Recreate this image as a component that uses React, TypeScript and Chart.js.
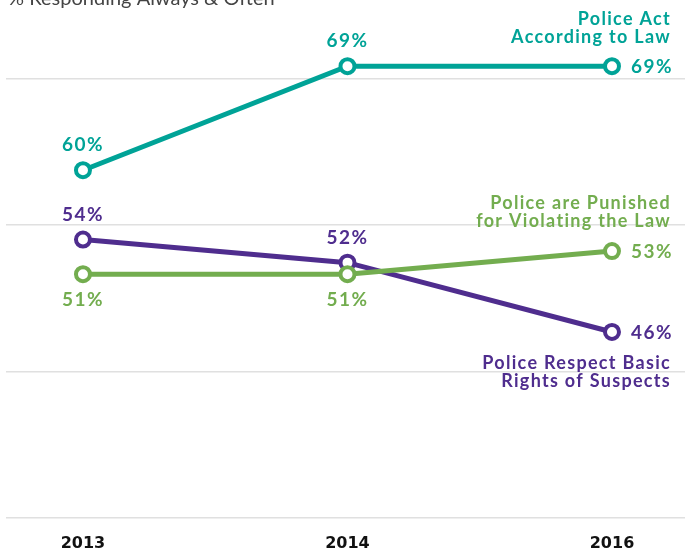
import React, { useEffect, useRef } from "react";
import { Chart, registerables } from "chart.js";

Chart.register(...registerables);

const years = ["2013", "2014", "2016"];
const actAccordingToLaw = [60, 69, 69];
const punishedForViolating = [51, 51, 53];
const respectRights = [54, 52, 46];
const gridValues = [29.9, 42.6, 55.25, 67.9];

const TEAL = "#00A397";
const GREEN = "#73AD4F";
const PURPLE = "#4F2D8E";

type Place = "above" | "below" | "right";

const seriesMeta: { name: string[]; color: string; places: Place[]; nameDy: number[] }[] = [
  { name: ["Police Act", "According to Law"], color: TEAL, places: ["above", "above", "right"], nameDy: [-41, -23] },
  { name: ["Police are Punished", "for Violating the Law"], color: GREEN, places: ["below", "below", "right"], nameDy: [-42, -24] },
  { name: ["Police Respect Basic", "Rights of Suspects"], color: PURPLE, places: ["above", "above", "right"], nameDy: [37, 55] },
];

const seriesValues = [actAccordingToLaw, punishedForViolating, respectRights];

const labelPlugin = {
  id: "labels",
  afterDatasetsDraw(chart: any) {
    const ctx = chart.ctx as CanvasRenderingContext2D;
    ctx.save();
    // title
    ctx.font = "400 20px Lato";
    ctx.fillStyle = "#444";
    ctx.textAlign = "left";
    ctx.textBaseline = "alphabetic";
    ctx.fillText("% Responding Always & Often", 8, 5);

    chart.data.datasets.forEach((ds: any, di: number) => {
      const meta = chart.getDatasetMeta(di);
      const sm = seriesMeta[di];
      ctx.fillStyle = sm.color;
      (ctx as any).letterSpacing = "1.5px";
      ctx.font = "700 19px Lato";
      meta.data.forEach((pt: any, i: number) => {
        const v = seriesValues[di][i];
        const text = v + "%";
        const place = sm.places[i];
        if (place === "right") {
          ctx.textAlign = "left";
          ctx.textBaseline = "middle";
          ctx.fillText(text, pt.x + 19, pt.y + 1);
        } else if (place === "above") {
          ctx.textAlign = "center";
          ctx.textBaseline = "middle";
          ctx.fillText(text, pt.x, pt.y - 25);
        } else {
          ctx.textAlign = "center";
          ctx.textBaseline = "middle";
          ctx.fillText(text, pt.x, pt.y + 26);
        }
      });
      const last = meta.data[meta.data.length - 1];
      ctx.textAlign = "right";
      ctx.textBaseline = "alphabetic";
      (ctx as any).letterSpacing = "1.3px";
      ctx.font = "700 18px Lato";
      sm.name.forEach((line, li) => {
        ctx.fillText(line, 671, last.y + sm.nameDy[li]);
      });
    });
    ctx.restore();
  },
};

export default function App() {
  const ref = useRef<HTMLCanvasElement | null>(null);
  useEffect(() => {
    if (!ref.current) return;
    const chart = new Chart(ref.current, {
      type: "line",
      data: {
        datasets: seriesValues.map((vals, di) => ({
          label: seriesMeta[di].name.join(" "),
          data: vals.map((v, i) => ({ x: i, y: v })),
          borderColor: seriesMeta[di].color,
          backgroundColor: "#ffffff",
          pointBackgroundColor: "#ffffff",
          pointBorderColor: seriesMeta[di].color,
          pointRadius: 7,
          pointBorderWidth: 4,
          borderWidth: 5,
          tension: 0,
          clip: false as any,
        })),
      },
      options: {
        animation: false,
        responsive: false,
        maintainAspectRatio: false,
        layout: { autoPadding: false, padding: { left: 6, right: 0, top: 20, bottom: 0 } },
        plugins: { legend: { display: false }, tooltip: { enabled: false } },
        scales: {
          x: {
            type: "linear",
            min: -0.291,
            max: 2.276,
            grid: { display: false, drawTicks: false },
            border: { display: false },
            afterBuildTicks: (scale: any) => {
              scale.ticks = years.map((_, i) => ({ value: i }));
            },
            afterFit: (scale: any) => {
              scale.height = 34;
              scale.paddingLeft = 0;
              scale.paddingRight = 0;
            },
            ticks: {
              padding: 16,
              color: "#111",
              font: { family: "DejaVu Sans", weight: "bold", size: 16 },
              callback: (v: any) => years[v as number] ?? "",
            },
          },
          y: {
            min: 29.9,
            max: 73,
            afterBuildTicks: (scale: any) => {
              scale.ticks = gridValues.map((v) => ({ value: v }));
            },
            afterFit: (scale: any) => {
              scale.width = 0;
              scale.paddingTop = 0;
              scale.paddingBottom = 0;
            },
            grid: { color: "#e0e0e0", lineWidth: 1.5, drawTicks: false },
            border: { display: false },
            ticks: { display: false },
          },
        },
      },
      plugins: [labelPlugin],
    });
    return () => chart.destroy();
  }, []);
  return (
    <div style={{ position: "absolute", left: 0, top: 0, width: 685, height: 552, background: "#fff" }}>
      <canvas ref={ref} width={685} height={552} />
    </div>
  );
}
